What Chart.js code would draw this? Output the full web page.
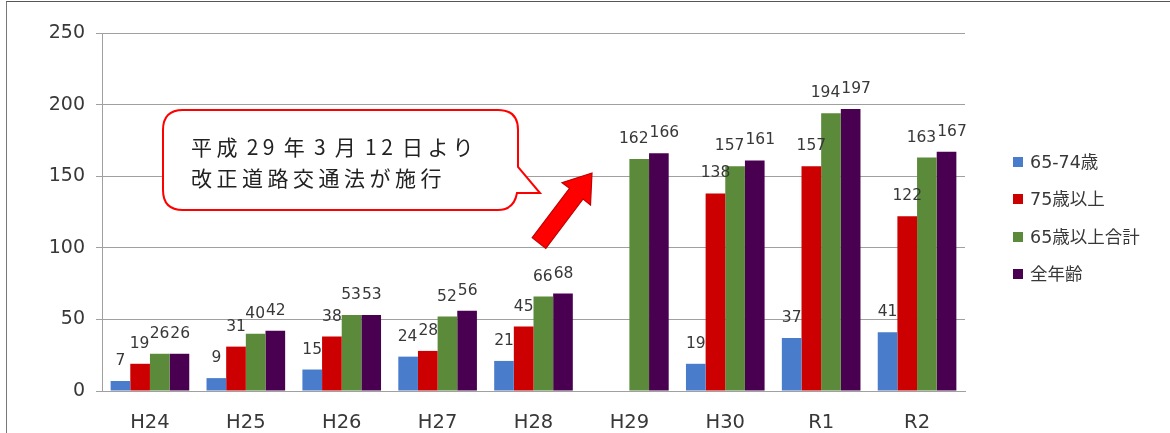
<!DOCTYPE html>
<html>
<head>
<meta charset="utf-8">
<script src="https://cdn.jsdelivr.net/npm/chart.js@4"></script>
<style>
    html, body { margin: 0; padding: 0; background: #fff; }
    #wrap { position: relative; width: 1170px; height: 433px; overflow: hidden; }
    #frame { position: absolute; left: 6px; top: 1px; width: 1164px; height: 440px;
             border-left: 1px solid #777; border-top: 1px solid #555; box-sizing: border-box; }
    canvas { position: absolute; left: 0; top: 0; }
    #legend { position: absolute; left: 1013px; top: 151px; font-family: "DejaVu Sans", "Noto Sans CJK JP", sans-serif;
              font-size: 17.5px; color: #383838; }
    #legend div { height: 37.3px; line-height: 22px; white-space: nowrap; }
    #legend span { display: inline-block; width: 10px; height: 10px; margin-right: 7px; vertical-align: 1px; }
    svg { position: absolute; left: 0; top: 0; }
</style>
</head>
<body>
<div id="wrap">
    <div id="frame"></div>
    <canvas id="chart" width="1170" height="433"></canvas>
    <div id="legend"></div>
    <svg width="1170" height="433">
        <path d="M183,110 H498 Q518,110 518,130 V167 L540,193 L517,193 Q514,210 498,210 H183 Q163,210 163,190 V130 Q163,110 183,110 Z"
              fill="#fff" stroke="#ff0000" stroke-width="2"/>
        <text font-family="Noto Sans CJK JP" font-size="21" fill="#222" letter-spacing="4.5" word-spacing="-4.5">
            <tspan x="191" y="155">平成 29 年 3 月 12 日より</tspan>
            <tspan x="191" y="186">改正道路交通法が施行</tspan>
        </text>
        <polygon points="592,173 590.5,205 583.1,199 545.8,248.4 532.2,237.6 569.5,188.3 562,182.6"
                 fill="#ff0000" stroke="#c00000" stroke-width="1.2" stroke-linejoin="miter"/>
    </svg>
</div>
<script>
const categories = ['H24', 'H25', 'H26', 'H27', 'H28', 'H29', 'H30', 'R1', 'R2'];
const seriesNames = ['65-74歳', '75歳以上', '65歳以上合計', '全年齢'];
const seriesColors = ['#4a7ccc', '#cc0000', '#5a8a3a', '#4a0050'];

const age65to74 = [7, 9, 15, 24, 21, null, 19, 37, 41];
const age75plus = [19, 31, 38, 28, 45, null, 138, 157, 122];
const age65plusTotal = [26, 40, 53, 52, 66, 162, 157, 194, 163];
const allAges = [26, 42, 53, 56, 68, 166, 161, 197, 167];

const yTicks = [0, 50, 100, 150, 200, 250];

const seriesValues = [age65to74, age75plus, age65plusTotal, allAges];
const textColor = '#383838';

// value labels above each bar, nudged apart when two in a group collide
const barLabels = {
    id: 'barLabels',
    afterDatasetsDraw(chart) {
        const ctx = chart.ctx;
        ctx.save();
        ctx.font = '15.5px "DejaVu Sans"';
        ctx.fillStyle = textColor;
        ctx.textAlign = 'center';
        ctx.textBaseline = 'middle';
        const n = chart.data.labels.length;
        for (let j = 0; j < n; j++) {
            const items = [];
            chart.data.datasets.forEach((ds, i) => {
                const v = ds.data[j];
                if (v === null) return;
                const bar = chart.getDatasetMeta(i).data[j];
                const text = String(v);
                items.push({ text, x: bar.x, y: bar.y - 20, w: ctx.measureText(text).width });
            });
            for (let k = 1; k < items.length; k++) {
                const a = items[k - 1], b = items[k];
                if (Math.abs(a.y - b.y) > 12) continue;
                const ov = (a.x + a.w / 2 + 1) - (b.x - b.w / 2);
                if (ov > 0) { a.x -= ov / 2; b.x += ov / 2; }
            }
            items.forEach(it => ctx.fillText(it.text, it.x, it.y));
        }
        ctx.restore();
    }
};

const chart = new Chart(document.getElementById('chart'), {
    type: 'bar',
    data: {
        labels: categories,
        datasets: seriesNames.map((name, i) => ({
            label: name,
            data: seriesValues[i],
            backgroundColor: seriesColors[i],
            barPercentage: 1,
            categoryPercentage: 0.82
        }))
    },
    options: {
        responsive: false,
        animation: false,
        layout: { padding: { left: 0, top: 33, right: 205, bottom: 0 } },
        plugins: {
            legend: { display: false },
            tooltip: { enabled: false }
        },
        scales: {
            x: {
                grid: { display: false },
                border: { display: true, color: '#a0a0a0' },
                ticks: { color: textColor, font: { family: 'DejaVu Sans', size: 19.5 }, padding: 12 },
                afterFit: s => { s.height = 42; }
            },
            y: {
                min: 0,
                max: 250,
                afterBuildTicks: s => { s.ticks = yTicks.map(v => ({ value: v })); },
                grid: { color: '#a0a0a0', tickLength: 6 },
                border: { color: '#a0a0a0' },
                ticks: { color: textColor, font: { family: 'DejaVu Sans', size: 19 }, padding: 11 },
                afterFit: s => { s.width = 102; }
            }
        }
    },
    plugins: [barLabels]
});

// legend built from the series
const legendEl = document.getElementById('legend');
seriesNames.forEach((name, i) => {
    const row = document.createElement('div');
    row.innerHTML = `<span style="background:${seriesColors[i]}"></span>${name}`;
    legendEl.appendChild(row);
});
</script>
</body>
</html>
